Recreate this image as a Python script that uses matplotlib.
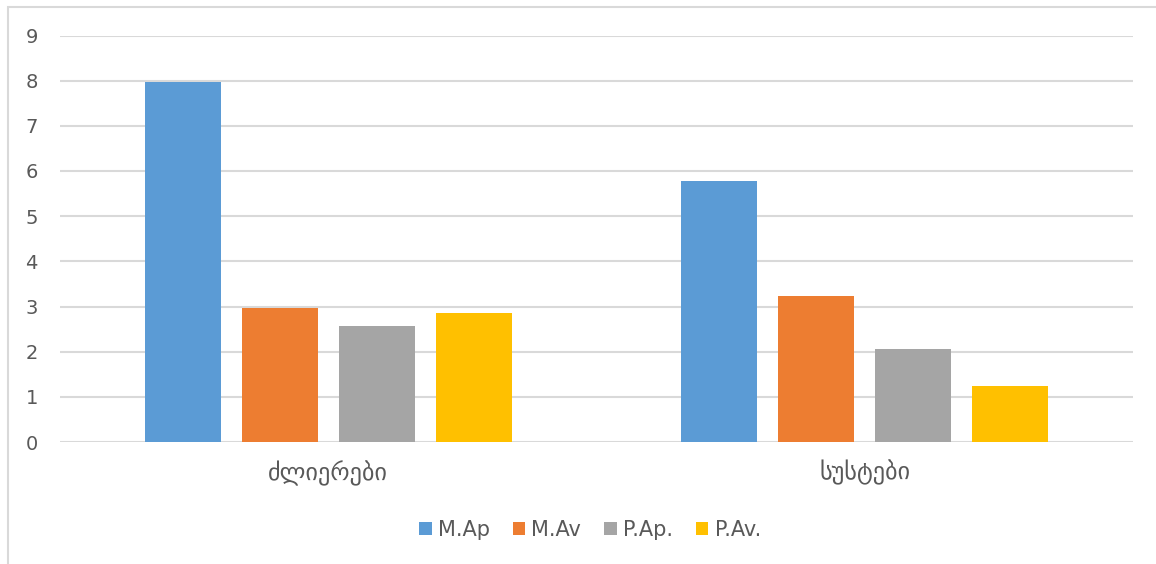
import numpy as np
import matplotlib.pyplot as plt
from matplotlib.patches import Rectangle

# groups and series
categories = ['ძლიერები', 'სუსტები']
series = ['M.Ap', 'M.Av', 'P.Ap.', 'P.Av.']
values = {
    'M.Ap': [7.96, 5.78],
    'M.Av': [2.96, 3.23],
    'P.Ap.': [2.56, 2.07],
    'P.Av.': [2.86, 1.24],
}
colors = ['#5b9bd5', '#ed7d31', '#a5a5a5', '#ffc000']
yticks = list(range(0, 10))

plt.rcParams['font.family'] = ['DejaVu Sans']
text_color = '#595959'

fig = plt.figure(figsize=(11.56, 5.64), dpi=100)
ax = fig.add_axes([60 / 1156, 122 / 564, 1073 / 1156, 406.5 / 564])

x = np.arange(len(categories))
width = 0.1417
step = 0.181
for i, (name, c) in enumerate(zip(series, colors)):
    ax.bar(x + (i - 1.5) * step, values[name], width, color=c, label=name, zorder=3)

ax.set_xlim(-0.5, 1.5)
ax.set_ylim(0, 9)
ax.set_yticks(yticks)
ax.set_xticks(x)
ax.set_xticklabels(categories, fontsize=17.5, color=text_color)
ax.tick_params(axis='x', length=0, pad=13)
ax.tick_params(axis='y', length=0, pad=16, labelsize=14, labelcolor=text_color)
ax.grid(axis='y', color='#d9d9d9', linewidth=1.5, zorder=0)
for s in ax.spines.values():
    s.set_visible(False)

fig.legend(loc='center', bbox_to_anchor=(590 / 1156, 1 - 530 / 564), ncol=4,
           frameon=False, fontsize=15, handlelength=0.6, handleheight=0.6,
           handletextpad=0.3, columnspacing=1.1, labelcolor=text_color)

# outer chart border
fig.patches.append(Rectangle((8 / 1156, -0.1), 1.2, 1 - 6.5 / 564 + 0.1,
                             transform=fig.transFigure, fill=False,
                             edgecolor='#d9d9d9', linewidth=1.5))

fig.savefig('out.png', dpi=100, facecolor='white')
